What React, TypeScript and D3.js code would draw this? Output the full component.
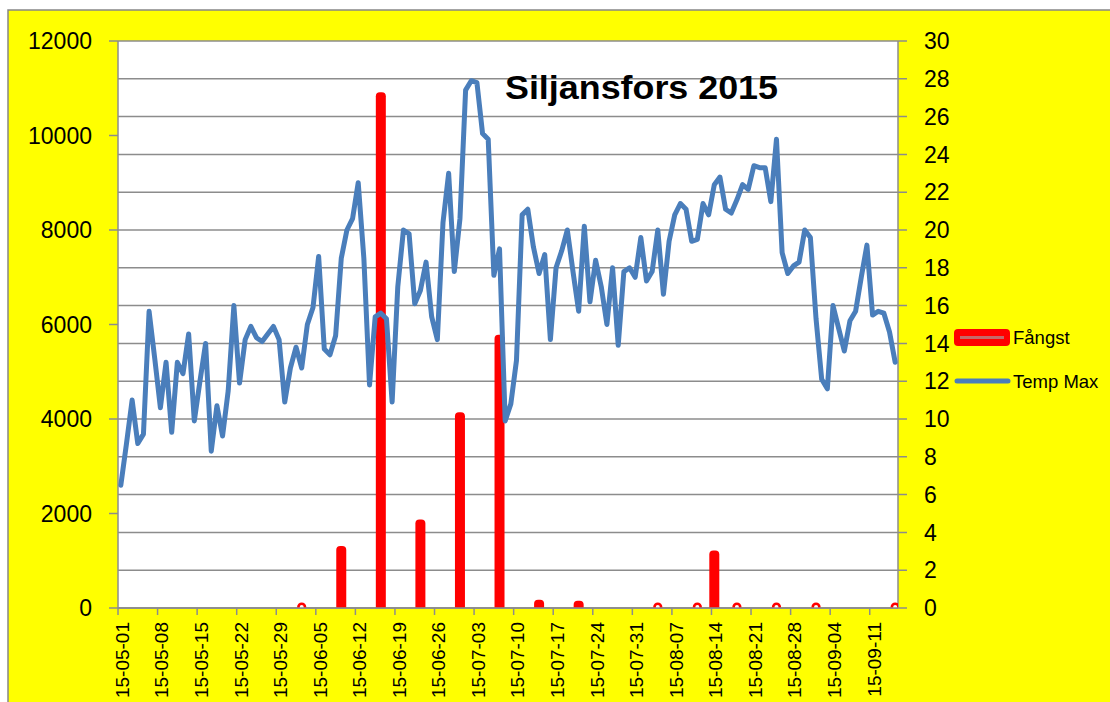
import React from "react";
import * as d3 from "d3";

const START = "2015-05-01";
const END_AXIS = "2015-09-16";

// Temp Max, daily from 2015-05-01 to 2015-09-15
const tempMax: number[] = [
  6.5, 8.7, 11.0, 8.7, 9.2, 15.7, 13.2, 10.6, 13.0, 9.3,
  13.0, 12.4, 14.5, 9.9, 12.0, 14.0, 8.3, 10.7, 9.1, 11.5,
  16.0, 11.9, 14.2, 14.9, 14.3, 14.1, 14.5, 14.9, 14.2, 10.9,
  12.7, 13.8, 12.7, 15.0, 15.9, 18.6, 13.7, 13.4, 14.4, 18.5,
  20.0, 20.6, 22.5, 18.5, 11.8, 15.4, 15.6, 15.3, 10.9, 17.0,
  20.0, 19.8, 16.1, 16.8, 18.3, 15.4, 14.2, 20.4, 23.0, 17.8,
  20.6, 27.4, 27.9, 27.8, 25.1, 24.8, 17.6, 19.0, 9.9, 10.8,
  13.1, 20.8, 21.1, 19.1, 17.7, 18.7, 14.2, 18.0, 18.9, 20.0,
  17.8, 15.7, 20.2, 16.2, 18.4, 17.0, 15.0, 18.0, 13.9, 17.8,
  18.0, 17.5, 19.6, 17.3, 17.8, 20.0, 16.6, 19.4, 20.8, 21.4,
  21.1, 19.4, 19.5, 21.4, 20.8, 22.4, 22.8, 21.1, 20.9, 21.6,
  22.4, 22.15, 23.4, 23.3, 23.3, 21.5, 24.8, 18.8, 17.7, 18.1,
  18.3, 20.0, 19.6, 15.3, 12.1, 11.6, 16.0, 14.8, 13.6, 15.2,
  15.7, 17.5, 19.2, 15.5, 15.7, 15.6, 14.6, 13.0,
];

// Fångst (catch)
const catchDates: string[] = [
  "2015-06-02", "2015-06-09", "2015-06-16", "2015-06-23", "2015-06-30",
  "2015-07-07", "2015-07-14", "2015-07-21", "2015-08-04", "2015-08-11",
  "2015-08-14", "2015-08-18", "2015-08-25", "2015-09-01", "2015-09-15",
];
const catchValues: number[] = [
  0, 1230, 10830, 1790, 4060,
  5700, 90, 70, 0, 0,
  1130, 0, 0, 0, 0,
];

const leftTicks: number[] = [0, 2000, 4000, 6000, 8000, 10000, 12000];
const rightTicks: number[] = [0, 2, 4, 6, 8, 10, 12, 14, 16, 18, 20, 22, 24, 26, 28, 30];
const xTickLabels: string[] = [
  "15-05-01", "15-05-08", "15-05-15", "15-05-22", "15-05-29", "15-06-05",
  "15-06-12", "15-06-19", "15-06-26", "15-07-03", "15-07-10", "15-07-17",
  "15-07-24", "15-07-31", "15-08-07", "15-08-14", "15-08-21", "15-08-28",
  "15-09-04", "15-09-11",
];

const title = "Siljansfors 2015";
const seriesNames = ["Fångst", "Temp Max"];

const W = 1110;
const H = 702;
const L = 118;
const R = 898;
const T = 41;
const B = 608;

const FONT = "'Liberation Sans', Arial, sans-serif";
const GRID = "#8c8c8c";
const BLUE = "#4a7ebb";
const RED = "#ff0000";

export default function App() {
  const parse = d3.utcParse("%Y-%m-%d");
  const parseTick = d3.utcParse("%y-%m-%d");
  const start = parse(START)!;
  const x = d3.scaleUtc().domain([start, parse(END_AXIS)!]).range([L, R]);
  const yL = d3.scaleLinear().domain([0, 12000]).range([B, T]);
  const yR = d3.scaleLinear().domain([0, 30]).range([B, T]);
  const mid = (d: Date) => x(d3.utcHour.offset(d, 12));

  const tempPts = tempMax.map((v, i) => [mid(d3.utcDay.offset(start, i)), yR(v)] as [number, number]);
  const line = d3.line().curve(d3.curveLinear)(tempPts) || "";

  const bars = catchDates.map((ds, i) => ({ cx: mid(parse(ds)!), v: catchValues[i] }));

  return (
    <svg
      width={W}
      height={H}
      style={{ position: "absolute", left: 0, top: 0, background: "#fff" }}
    >
      <defs>
        <clipPath id="plotclip">
          <rect x={L} y={T} width={R - L} height={B - T} />
        </clipPath>
      </defs>
      <rect x={8} y={10} width={W} height={H} fill="#ffff00" stroke="#868686" strokeWidth={1.5} />
      <rect x={L} y={T} width={R - L} height={B - T} fill="#fff" />

      {rightTicks.map((t) => (
        <line key={"g" + t} x1={L} x2={R + 9} y1={yR(t)} y2={yR(t)} stroke={GRID} strokeWidth={1.5} />
      ))}
      {leftTicks.map((t) => (
        <line key={"lt" + t} x1={L - 9} x2={L} y1={yL(t)} y2={yL(t)} stroke={GRID} strokeWidth={1.5} />
      ))}
      <line x1={L} x2={L} y1={T} y2={B} stroke={GRID} strokeWidth={1.5} />
      <line x1={R} x2={R} y1={T} y2={B} stroke={GRID} strokeWidth={1.5} />
      <line x1={L} x2={R} y1={B} y2={B} stroke={GRID} strokeWidth={1.5} />
      {xTickLabels.map((lab) => {
        const xx = x(parseTick(lab)!);
        return <line key={"xt" + lab} x1={xx} x2={xx} y1={B} y2={B + 7} stroke={GRID} strokeWidth={1.5} />;
      })}

      <g clipPath="url(#plotclip)">
        {bars.map((b, i) =>
          b.v > 0 ? (
            <rect
              key={"b" + i}
              x={b.cx - 1}
              y={yL(b.v)}
              width={2}
              height={B - yL(b.v) + 6}
              fill={RED}
              stroke={RED}
              strokeWidth={8}
              strokeLinejoin="round"
            />
          ) : (
            <circle key={"b" + i} cx={b.cx} cy={B - 1} r={3.3} fill="#fff" stroke={RED} strokeWidth={2.6} />
          )
        )}
      </g>
      <line x1={L} x2={R} y1={B} y2={B} stroke={GRID} strokeWidth={1.5} />

      <path d={line} fill="none" stroke={BLUE} strokeWidth={5} strokeLinejoin="round" strokeLinecap="round" />

      {leftTicks.map((t) => (
        <text key={"ll" + t} x={92} y={yL(t)} dy="0.36em" textAnchor="end" fontFamily={FONT} fontSize={23} fill="#000">
          {t}
        </text>
      ))}
      {rightTicks.map((t) => (
        <text key={"rl" + t} x={924} y={yR(t)} dy="0.36em" textAnchor="start" fontFamily={FONT} fontSize={23} fill="#000">
          {t}
        </text>
      ))}
      {xTickLabels.map((lab) => {
        const xx = x(parseTick(lab)!) + 4;
        return (
          <text
            key={"xl" + lab}
            transform={`translate(${xx},${B + 14}) rotate(-90)`}
            dy="0.36em"
            textAnchor="end"
            fontFamily={FONT}
            fontSize={19}
            fill="#000"
          >
            {lab}
          </text>
        );
      })}

      <text x={505} y={99} fontFamily={FONT} fontWeight="bold" fontSize={34} fill="#000" textLength={273} lengthAdjust="spacingAndGlyphs">
        {title}
      </text>

      <rect x={954} y={329} width={56} height={17} rx={4} fill={RED} />
      <line x1={960} x2={1004} y1={337.5} y2={337.5} stroke="#c46a6a" strokeWidth={3} />
      <text x={1013} y={337} dy="0.36em" fontFamily={FONT} fontSize={18.5} fill="#000">
        {seriesNames[0]}
      </text>
      <line x1={957} x2={1008} y1={381} y2={381} stroke={BLUE} strokeWidth={5} strokeLinecap="round" />
      <text x={1013} y={381} dy="0.36em" fontFamily={FONT} fontSize={18.5} fill="#000">
        {seriesNames[1]}
      </text>
    </svg>
  );
}
